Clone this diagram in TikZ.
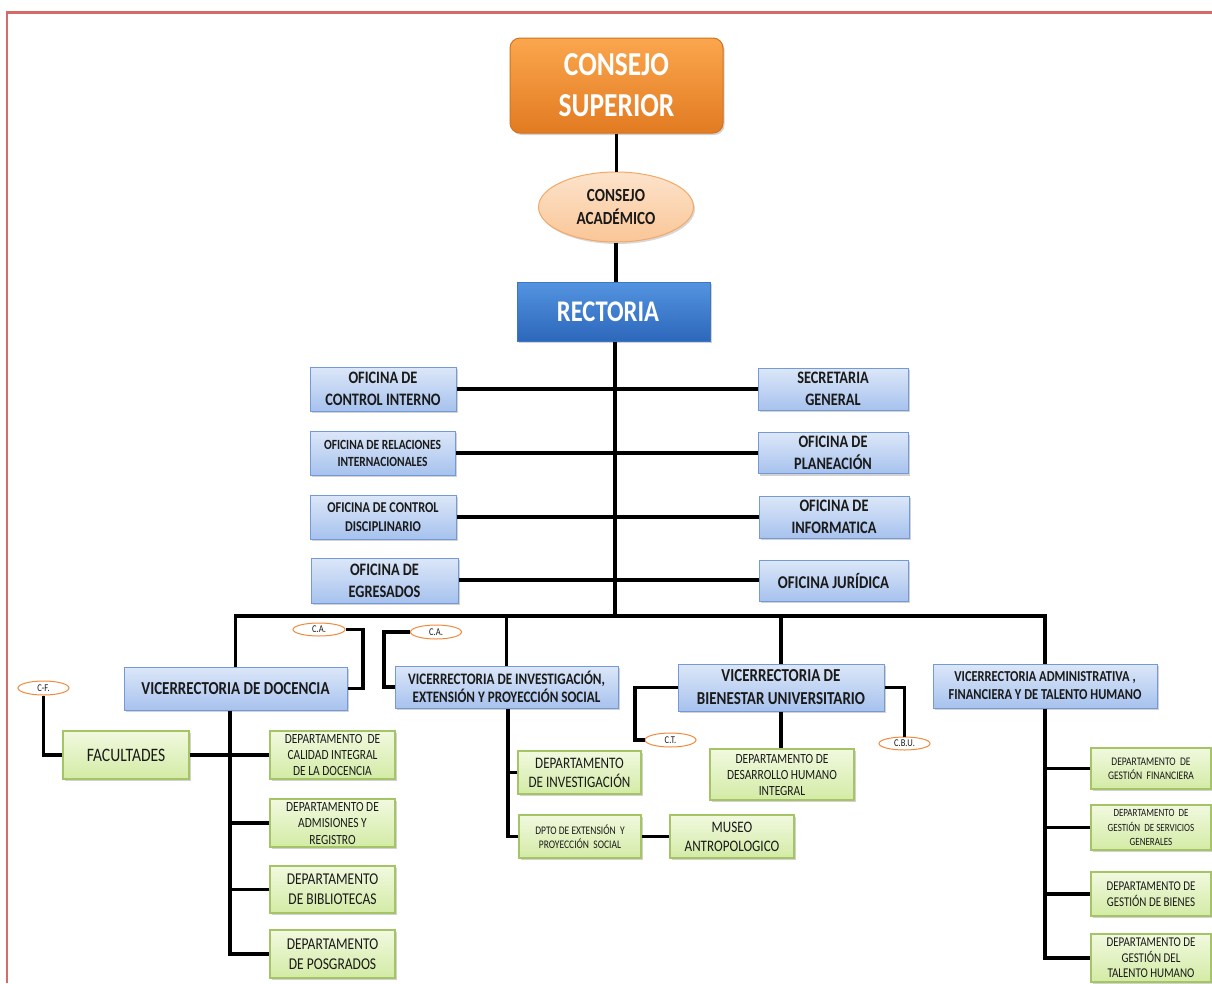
\documentclass[tikz,border=0pt]{standalone}
\usepackage{fontspec}
\setmainfont{Carlito}[FakeStretch=0.82]
\usetikzlibrary{shapes.geometric,shadows}
\definecolor{txt}{HTML}{1A1A1A}
\definecolor{bluetop}{HTML}{DCE7F8}
\definecolor{bluebot}{HTML}{A7C2EE}
\definecolor{bluebd}{HTML}{7399D6}
\definecolor{greentop}{HTML}{F1F9DF}
\definecolor{greenbot}{HTML}{D3EBA5}
\definecolor{greenbd}{HTML}{A4C466}
\definecolor{orangetop}{HTML}{FBA64D}
\definecolor{orangebot}{HTML}{E27B22}
\definecolor{orangebd}{HTML}{D0741F}
\definecolor{peachtop}{HTML}{FDE3CB}
\definecolor{peachbot}{HTML}{FAC697}
\definecolor{peachbd}{HTML}{F3A867}
\definecolor{rectop}{HTML}{5394E0}
\definecolor{recbot}{HTML}{2D67BA}
\definecolor{recbd}{HTML}{3E74C4}
\definecolor{tagbd}{HTML}{F08A3C}
\definecolor{framecol}{HTML}{D46A6A}
\begin{document}
\begin{tikzpicture}[x=1pt,y=-1pt,
  base/.style={rectangle, inner sep=1pt, align=center, text=txt,
    drop shadow={opacity=0.35,shadow xshift=1.5pt,shadow yshift=-2pt}},
  bluebox/.style={base, draw=bluebd, line width=1pt, top color=bluetop, bottom color=bluebot},
  greenbox/.style={base, draw=greenbd, line width=1.2pt, top color=greentop, bottom color=greenbot},
  tag/.style={ellipse, draw=tagbd, line width=1pt, fill=white, inner sep=0pt, text=txt,
    font=\fontsize{10.4}{11}\selectfont},
  conn/.style={line width=3.4pt, black},
  trunk/.style={line width=4.3pt, black}
]
\useasboundingbox (0,0) rectangle (1212,983);
\fill[white] (0,0) rectangle (1212,983);
\draw[framecol, line width=2.5pt] (7,983) -- (7,12.5) -- (1212,12.5);

% top
\node[base, rounded corners=10pt, draw=orangebd, line width=1pt, top color=orangetop, bottom color=orangebot,
  minimum width=213, minimum height=95, text=white, font=\fontsize{33.5}{41}\bfseries\selectfont]
  (cs) at (616.5,85.5) {CONSEJO\\SUPERIOR};
\node[ellipse, draw=peachbd, line width=1pt, top color=peachtop, bottom color=peachbot, align=center, text=txt,
  minimum width=155, minimum height=70, inner sep=0pt,
  drop shadow={opacity=0.3,shadow xshift=1.5pt,shadow yshift=-2pt},
  font=\fontsize{18.5}{23}\bfseries\selectfont] (ca) at (616,207) {CONSEJO\\ACADÉMICO};
\node[base, draw=recbd, line width=1pt, top color=rectop, bottom color=recbot, text=white,
  minimum width=193, minimum height=59, font=\fontsize{30}{32}\bfseries\selectfont]
  (rec) at (613.5,311.5) {RECTORIA\hspace*{11pt}};
\draw[conn] (cs.south) -- (cs.south |- ca.north);
\draw[conn] (ca.south) -- (rec.north -| ca.south);

% offices
\node[bluebox, minimum width=146, minimum height=44, font=\fontsize{17.5}{22}\bfseries\selectfont] (o1) at (383,389) {OFICINA DE\\CONTROL INTERNO};
\node[bluebox, minimum width=145, minimum height=44, font=\fontsize{14}{17}\bfseries\selectfont] (o2) at (382.5,453) {OFICINA DE RELACIONES\\INTERNACIONALES};
\node[bluebox, minimum width=146, minimum height=44, font=\fontsize{15}{19}\bfseries\selectfont] (o3) at (383,517) {OFICINA DE CONTROL\\DISCIPLINARIO};
\node[bluebox, minimum width=147, minimum height=45, font=\fontsize{17.5}{22}\bfseries\selectfont] (o4) at (384.5,580.5) {OFICINA DE\\EGRESADOS};
\node[bluebox, minimum width=150, minimum height=42, font=\fontsize{17.5}{22}\bfseries\selectfont] (s1) at (833,389) {SECRETARIA\\GENERAL};
\node[bluebox, minimum width=150, minimum height=41, font=\fontsize{17.5}{22}\bfseries\selectfont] (s2) at (833,453) {OFICINA DE\\PLANEACIÓN};
\node[bluebox, minimum width=150, minimum height=42, font=\fontsize{17.5}{22}\bfseries\selectfont] (s3) at (834,517) {OFICINA DE\\INFORMATICA};
\node[bluebox, minimum width=149, minimum height=41, font=\fontsize{18}{22}\bfseries\selectfont] (s4) at (833.5,580.5) {OFICINA JURÍDICA};

\coordinate (bus) at (615,616);
\draw[trunk] (rec.south -| bus) -- (bus);
\draw[conn] (o1.east) -- (s1.west);
\draw[conn] (o2.east) -- (s2.west);
\draw[conn] (o3.east) -- (s3.west);
\draw[conn] (o4.east |- 580,580) -- (s4.west |- 580,580);

% vicerrectorias
\node[bluebox, minimum width=223, minimum height=43, font=\fontsize{18.3}{22}\bfseries\selectfont] (vd) at (235.5,688.5) {VICERRECTORIA DE DOCENCIA};
\node[bluebox, minimum width=223, minimum height=42, font=\fontsize{16}{18}\bfseries\selectfont] (vi) at (506.5,687) {VICERRECTORIA DE INVESTIGACIÓN,\\EXTENSIÓN Y PROYECCIÓN  SOCIAL};
\node[bluebox, minimum width=206, minimum height=47, font=\fontsize{18.3}{23}\bfseries\selectfont] (vb) at (781,687.5) {VICERRECTORIA DE\\BIENESTAR UNIVERSITARIO};
\node[bluebox, minimum width=224, minimum height=44, font=\fontsize{15.2}{18}\bfseries\selectfont] (va) at (1045,686) {VICERRECTORIA ADMINISTRATIVA ,\\FINANCIERA Y DE TALENTO HUMANO};

\draw[conn] (vd.north) |- (bus) -| (va.north);
\draw[conn] (vi.north) -- (vi.north |- bus);
\draw[conn] (vb.north) -- (vb.north |- bus);

% tags
\node[tag, minimum width=52, minimum height=13] (caL) at (319,629.5) {C.A.};
\node[tag, minimum width=51, minimum height=14] (caR) at (436,632) {C.A.};
\node[tag, minimum width=51, minimum height=14] (cf) at (43.5,688) {C-F.};
\node[tag, minimum width=51, minimum height=14] (ct) at (670.5,740) {C.T.};
\node[tag, minimum width=51, minimum height=13] (cbu) at (904.5,743.5) {C.B.U.};
\coordinate (caLk) at (363,629.5);
\coordinate (caRk) at (384,632);
\coordinate (ctk) at (635,687.5);
\draw[conn] (caL.east) -- (caLk) |- (vd.east);
\draw[conn] (caR.west) -- (caRk) |- (vi.west);
\draw[conn] (vb.west) -- (ctk) |- (ct.west);
\draw[conn] (vb.east) -| (cbu.north);

% docencia branch
\node[greenbox, minimum width=126, minimum height=48, font=\fontsize{19}{20}\selectfont] (fac) at (126,755) {FACULTADES};
\node[greenbox, minimum width=125, minimum height=48, font=\fontsize{14}{16}\selectfont] (d1) at (332.5,755) {DEPARTAMENTO \ DE\\CALIDAD INTEGRAL\\DE LA DOCENCIA};
\node[greenbox, minimum width=125, minimum height=48, font=\fontsize{14}{16.5}\selectfont] (d2) at (332.5,823) {DEPARTAMENTO DE\\ADMISIONES Y\\REGISTRO};
\node[greenbox, minimum width=125, minimum height=47, font=\fontsize{16.5}{20}\selectfont] (d3) at (332.5,889.5) {DEPARTAMENTO\\DE BIBLIOTECAS};
\node[greenbox, minimum width=125, minimum height=48, font=\fontsize{16.5}{20}\selectfont] (d4) at (332.5,954) {DEPARTAMENTO\\DE POSGRADOS};
\coordinate (vdt) at (230,710);
\draw[conn] (cf.south) |- (fac.west);
\draw[conn] (fac.east) -- (d1.west);
\draw[conn] (vd.south -| vdt) |- (d4.west);
\draw[conn] (d2.west) -- (d2.west -| vdt);
\draw[conn] (d3.west) -- (d3.west -| vdt);

% investigacion branch
\node[greenbox, minimum width=123, minimum height=43, font=\fontsize{16}{19}\selectfont] (inv) at (579.5,772.5) {DEPARTAMENTO\\DE INVESTIGACIÓN};
\node[greenbox, minimum width=122, minimum height=43, font=\fontsize{11.6}{14}\selectfont] (ext) at (580,836.5) {DPTO DE EXTENSIÓN \ Y\\PROYECCIÓN \ SOCIAL};
\node[greenbox, minimum width=124, minimum height=43, font=\fontsize{16}{19}\selectfont] (mus) at (732,836.5) {MUSEO\\ANTROPOLOGICO};
\coordinate (vit) at (508,708);
\draw[conn] (vi.south -| vit) |- (ext.west);
\draw[conn] (inv.west) -- (inv.west -| vit);
\draw[conn] (ext.east) -- (mus.west);

% bienestar branch
\node[greenbox, minimum width=144, minimum height=51, font=\fontsize{14}{16}\selectfont] (des) at (782,774.5) {DEPARTAMENTO DE\\DESARROLLO HUMANO\\INTEGRAL};
\draw[conn] (vb.south) -- (des.north -| vb.south);

% administrativa branch
\node[greenbox, minimum width=120, minimum height=41, font=\fontsize{11.6}{14}\selectfont] (r1) at (1151,768.5) {DEPARTAMENTO \ DE\\GESTIÓN \ FINANCIERA};
\node[greenbox, minimum width=120, minimum height=45, font=\fontsize{11}{14.5}\selectfont] (r2) at (1151,827.5) {DEPARTAMENTO \ DE\\GESTIÓN \ DE SERVICIOS\\GENERALES};
\node[greenbox, minimum width=120, minimum height=44, font=\fontsize{13.4}{16}\selectfont] (r3) at (1151,894) {DEPARTAMENTO DE\\GESTIÓN DE BIENES};
\node[greenbox, minimum width=120, minimum height=48, font=\fontsize{13.4}{15.5}\selectfont] (r4) at (1151,958) {DEPARTAMENTO DE\\GESTIÓN DEL\\TALENTO HUMANO};
\draw[conn] (va.south) |- (r4.west);
\draw[conn] (r1.west) -- (r1.west -| va.south);
\draw[conn] (r2.west) -- (r2.west -| va.south);
\draw[conn] (r3.west) -- (r3.west -| va.south);
\end{tikzpicture}
\end{document}
